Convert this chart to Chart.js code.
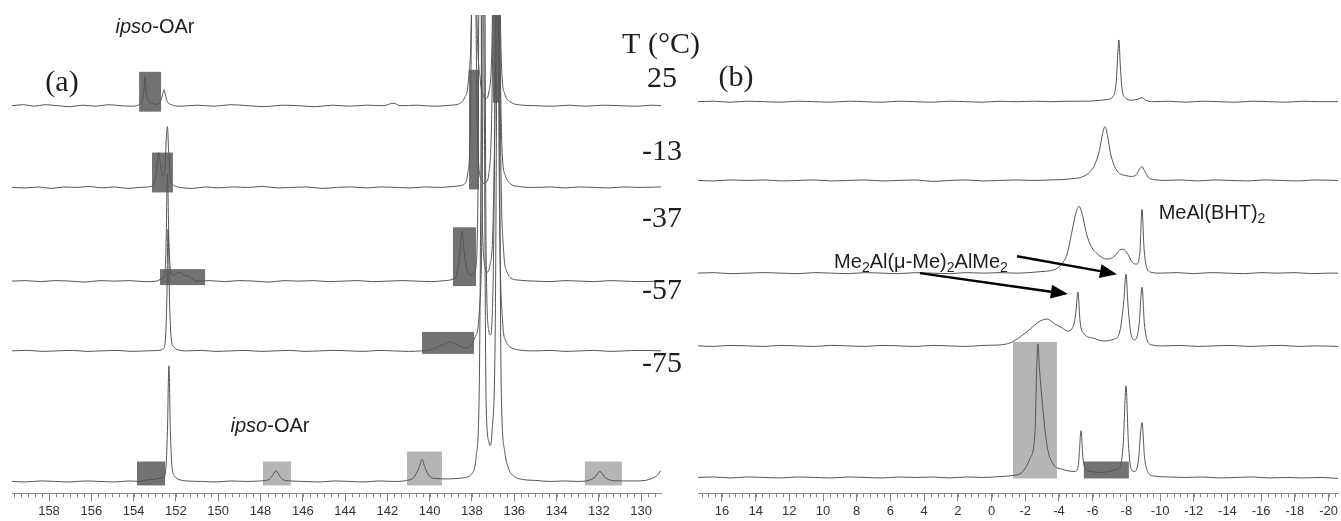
<!DOCTYPE html>
<html>
<head>
<meta charset="utf-8">
<script src="https://cdn.jsdelivr.net/npm/chart.js@4.4.1/dist/chart.umd.min.js"></script>
<style>
  html, body { margin: 0; padding: 0; background: #fff; }
  #wrap { position: relative; width: 1341px; height: 521px; overflow: hidden; background: #fff; }
  #chartA { position: absolute; left: 0; top: 0; }
  #chartB { position: absolute; left: 670px; top: 0; }
</style>
</head>
<body>
<div id="wrap">
  <canvas id="chartA" width="710" height="521"></canvas>
  <canvas id="chartB" width="671" height="521"></canvas>
</div>
<script>
// temperatures (°C), top to bottom
var temperatures = ['25', '-13', '-37', '-57', '-75'];

// axis tick labels (ppm)
var ticksA = [158, 156, 154, 152, 150, 148, 146, 144, 142, 140, 138, 136, 134, 132, 130];
var ticksB = [16, 14, 12, 10, 8, 6, 4, 2, 0, -2, -4, -6, -8, -10, -12, -14, -16, -18, -20];

// (a) spectra: [ppm, intensity above the trace baseline]
var specA25 = [[159.75,0],[159.2,1],[158.7,-0.5],[158.2,1],[157.6,0],[157.0,-1],[156.4,0.5],[155.8,-0.5],[155.2,1],[154.6,0],[154.1,-0.5],[153.8,0.5],[153.62,4],[153.52,14],[153.46,29],[153.4,14],[153.3,5],[153.1,2],[152.9,1.5],[152.72,5],[152.62,12],[152.56,16],[152.5,11],[152.4,4],[152.2,1],[151.8,-0.5],[151.0,0.5],[150.2,-0.5],[149.4,1],[148.6,0],[147.8,-1],[147.0,0.5],[146.2,0],[145.4,-1],[144.6,0.5],[143.8,-0.5],[143.0,0.5],[142.2,0],[141.7,2.5],[141.4,0],[140.6,0.5],[139.8,-0.5],[139.0,0.5],[138.6,2],[138.35,8],[138.15,30],[138.0,140],[137.9,520],[137.8,140],[137.6,25],[137.45,10],[137.35,7],[137.2,14],[137.03,90],[136.94,300],[136.82,520],[136.72,200],[136.6,40],[136.45,12],[136.2,4],[135.8,1],[135.0,0],[134.2,-0.5],[133.4,0.5],[132.6,-0.5],[131.8,0.5],[131.0,0],[130.2,-0.5],[129.5,0.5],[129.06,0]];
var specAm13 = [[159.75,0],[159.1,-0.5],[158.5,0.5],[157.9,-1],[157.3,0.5],[156.7,0],[156.1,1],[155.5,-0.5],[154.9,0.5],[154.3,-1],[153.7,0],[153.3,0.5],[153.05,3],[152.92,15],[152.82,35],[152.74,25],[152.62,11],[152.52,18],[152.45,50],[152.4,61],[152.34,35],[152.25,8],[152.1,2],[151.8,0],[151.2,-1],[150.6,0.5],[150.0,-0.5],[149.3,0.5],[148.6,0],[147.9,1],[147.2,-0.5],[146.5,0],[145.8,0.5],[145.1,-1],[144.4,0],[143.7,0.5],[143.0,-0.5],[142.3,0.5],[141.6,0],[140.9,-0.5],[140.2,0.5],[139.5,0],[138.9,1],[138.5,2],[138.33,4],[138.2,14],[138.08,60],[137.98,300],[137.92,560],[137.82,200],[137.7,30],[137.55,8],[137.45,4],[137.35,5],[137.2,14],[137.05,90],[136.95,300],[136.82,560],[136.7,200],[136.58,40],[136.42,12],[136.2,4],[135.8,1],[135.0,0],[134.3,0.5],[133.6,-0.5],[132.9,0.5],[132.2,0],[131.5,-0.5],[130.8,0.5],[130.1,0],[129.06,0.5]];
var specAm37 = [[159.75,0],[159.1,0.5],[158.4,-0.5],[157.7,0.5],[157.0,0],[156.3,-1],[155.6,0.5],[154.9,0],[154.2,0.5],[153.5,-0.5],[152.9,0],[152.7,2],[152.55,4],[152.47,30],[152.4,107],[152.33,40],[152.25,10],[152.1,6],[151.95,8],[151.8,9],[151.6,6],[151.4,5],[151.2,2],[151.0,0],[150.4,0.5],[149.7,-0.5],[149.0,0.5],[148.3,0],[147.6,-1],[146.9,0.5],[146.2,0],[145.5,0.5],[144.8,-0.5],[144.1,0],[143.4,0.5],[142.7,-0.5],[142.0,0],[141.3,0.5],[140.6,0],[139.9,-0.5],[139.3,0.5],[138.9,2],[138.7,8],[138.57,30],[138.47,50],[138.37,30],[138.22,10],[138.0,6],[137.85,10],[137.72,80],[137.62,560],[137.52,80],[137.38,14],[137.29,9],[137.15,16],[137.0,60],[136.85,300],[136.77,560],[136.65,150],[136.5,30],[136.35,10],[136.15,3],[135.8,1],[135.0,0],[134.3,-0.5],[133.6,0.5],[132.9,0],[132.2,-0.5],[131.5,0.5],[130.8,0],[130.1,-0.5],[129.06,0]];
var specAm57 = [[159.75,0],[159.0,0.5],[158.3,-0.5],[157.6,0],[156.9,0.5],[156.2,-0.5],[155.5,0],[154.8,0.5],[154.1,-0.5],[153.4,0],[152.8,0.5],[152.6,2],[152.5,10],[152.43,50],[152.37,122],[152.3,50],[152.22,12],[152.1,4],[151.9,1],[151.5,0],[150.8,0.5],[150.1,-0.5],[149.4,0],[148.7,0.5],[148.0,-0.5],[147.3,0],[146.6,0.5],[145.9,-0.5],[145.2,0],[144.5,0.5],[143.8,0],[143.1,-0.5],[142.4,0.5],[141.7,0],[141.0,-0.5],[140.4,0],[140.0,1],[139.6,4],[139.3,7],[139.04,9],[138.8,7],[138.5,4],[138.25,3],[138.05,6],[137.85,14],[137.65,40],[137.5,200],[137.43,560],[137.33,100],[137.2,20],[137.13,16],[137.05,30],[136.95,150],[136.82,560],[136.7,150],[136.55,30],[136.4,10],[136.2,4],[135.8,1],[135.0,0],[134.3,0.5],[133.6,-0.5],[132.9,0],[132.2,0.5],[131.5,-0.5],[130.8,0],[130.1,0.5],[129.06,0]];
var specAm75 = [[159.75,0],[159.1,-0.5],[158.4,0.5],[157.7,0],[157.0,-0.5],[156.3,0.5],[155.6,0],[154.9,-0.5],[154.2,0.5],[153.7,0],[153.4,1.5],[153.1,2],[152.8,3],[152.6,4],[152.48,12],[152.4,50],[152.33,116],[152.26,50],[152.18,14],[152.05,5],[151.85,2],[151.5,0.5],[150.8,0],[150.1,-0.5],[149.4,0.5],[148.7,0],[148.0,0.5],[147.6,2],[147.4,7],[147.27,11],[147.14,7],[146.95,2],[146.6,0.5],[145.9,0],[145.2,-0.5],[144.5,0.5],[143.8,0],[143.1,-0.5],[142.4,0.5],[141.7,0],[141.1,1],[140.75,4],[140.5,14],[140.36,22],[140.22,14],[140.0,5],[139.7,3],[139.2,2.5],[138.7,3],[138.3,4],[138.0,8],[137.8,25],[137.65,100],[137.48,560],[137.33,80],[137.2,40],[137.15,36],[137.05,50],[136.9,150],[136.77,560],[136.62,100],[136.45,30],[136.25,12],[136.0,5],[135.6,2],[135.0,1],[134.3,0],[133.6,0.5],[133.0,0],[132.5,1],[132.2,4],[131.95,10],[131.7,4],[131.4,1],[130.9,0.5],[130.3,0.5],[129.8,1],[129.5,3],[129.25,6],[129.06,11]];

// (b) spectra: [ppm, intensity above the trace baseline]
var specB25 = [[17.42,0],[16.5,0.5],[15.5,-0.5],[14.5,0.5],[13.5,0],[12.5,-0.5],[11.5,0.5],[10.5,0],[9.5,-0.5],[8.5,0.5],[7.5,0],[6.5,-0.5],[5.5,0.5],[4.5,0],[3.5,-0.5],[2.5,0.5],[1.5,0],[0.5,-0.5],[-0.5,0.5],[-1.5,0],[-2.5,0.5],[-3.5,0],[-4.5,0.5],[-5.5,0.5],[-6.2,1],[-6.8,2],[-7.2,5],[-7.4,20],[-7.5,50],[-7.56,62],[-7.63,40],[-7.75,12],[-7.95,4],[-8.3,1.5],[-8.7,2.5],[-8.93,4],[-9.15,1.5],[-9.5,0],[-10.5,0.5],[-11.5,-0.5],[-12.5,0.5],[-13.5,0],[-14.5,-0.5],[-15.5,0.5],[-16.5,0],[-17.5,-0.5],[-18.5,0.5],[-19.5,0],[-20.56,0]];
var specBm13 = [[17.42,0],[16.5,-0.5],[15.5,0.5],[14.5,0],[13.5,0.5],[12.5,-0.5],[11.5,0],[10.5,0.5],[9.5,-0.5],[8.5,0],[7.5,0.5],[6.5,-0.5],[5.5,0],[4.5,0.5],[3.5,-1],[2.5,0],[1.5,0.5],[0.5,-0.5],[-0.5,0],[-1.5,0.5],[-2.5,0],[-3.5,0.5],[-4.3,1],[-4.9,2],[-5.3,3],[-5.8,8],[-6.1,15],[-6.4,30],[-6.6,48],[-6.73,54],[-6.88,45],[-7.05,28],[-7.3,14],[-7.6,7],[-7.95,5],[-8.3,4],[-8.6,6],[-8.8,12],[-8.93,14],[-9.07,10],[-9.3,3],[-9.6,1],[-10.2,0],[-11.2,0.5],[-12.2,-0.5],[-13.2,0.5],[-14.2,0],[-15.2,-0.5],[-16.2,0.5],[-17.2,0],[-18.2,-0.5],[-19.2,0.5],[-20.56,0]];
var specBm37 = [[17.42,0],[16.5,0.5],[15.5,-0.5],[14.5,0],[13.5,0.5],[12.5,0],[11.5,-0.5],[10.5,0.5],[9.5,0],[8.5,-0.5],[7.5,0.5],[6.5,0],[5.5,-0.5],[4.5,0.5],[3.5,0],[2.5,-0.5],[1.5,0.5],[0.5,0],[-0.5,0.5],[-1.5,0],[-2.2,0.5],[-2.9,1.5],[-3.5,2.5],[-3.9,5],[-4.25,11],[-4.5,20],[-4.75,40],[-5.0,60],[-5.19,67],[-5.4,58],[-5.6,42],[-5.85,29],[-6.3,19],[-6.85,14],[-7.3,17],[-7.6,23],[-7.8,24],[-8.05,20],[-8.35,11],[-8.6,9],[-8.8,20],[-8.93,64],[-9.05,25],[-9.2,6],[-9.45,1],[-10.0,0],[-11.0,0.5],[-12.0,-0.5],[-13.0,0.5],[-14.0,0],[-15.0,-0.5],[-16.0,0.5],[-17.0,0],[-18.0,0.5],[-19.0,-0.5],[-20.0,0],[-20.56,0]];
var specBm57 = [[17.42,0],[16.5,-0.5],[15.5,0.5],[14.5,0],[13.5,-0.5],[12.5,0.5],[11.5,0],[10.5,-0.5],[9.5,0.5],[8.5,0],[7.5,-0.5],[6.5,0.5],[5.5,0],[4.5,-0.5],[3.5,0.5],[2.5,0],[1.5,-0.5],[0.5,0.5],[-0.5,1],[-1.1,3],[-1.7,9],[-2.3,17],[-2.8,24],[-3.29,27],[-3.75,22],[-4.2,18],[-4.5,15],[-4.8,18],[-4.98,30],[-5.13,54],[-5.25,25],[-5.5,12],[-6.0,8],[-6.6,5],[-7.3,7],[-7.62,15],[-7.85,45],[-7.98,72],[-8.1,40],[-8.3,10],[-8.5,6],[-8.75,20],[-8.93,59],[-9.07,22],[-9.25,5],[-9.5,1],[-10.2,0],[-11.2,0.5],[-12.2,-0.5],[-13.2,0],[-14.2,0.5],[-15.2,-0.5],[-16.2,0],[-17.2,0.5],[-18.2,-0.5],[-19.2,0],[-20.56,-0.5]];
var specBm75 = [[17.42,0],[16.5,0.5],[15.5,-0.5],[14.5,0.5],[13.5,0],[12.5,-0.5],[11.5,0.5],[10.5,0],[9.5,-0.5],[8.5,0.5],[7.5,0],[6.5,-0.5],[5.5,0.5],[4.5,0],[3.5,0.5],[2.5,-0.5],[1.5,0.5],[0.5,0],[-0.6,1],[-1.27,2],[-1.8,5],[-2.28,19],[-2.58,46],[-2.68,110],[-2.75,134],[-2.84,110],[-2.99,79],[-3.29,32],[-3.64,14],[-4.24,8],[-4.95,6],[-5.15,12],[-5.22,28],[-5.31,47],[-5.42,20],[-5.6,8],[-5.9,6],[-6.4,5],[-7.0,6],[-7.4,8],[-7.65,12],[-7.82,35],[-7.98,92],[-8.12,35],[-8.3,8],[-8.5,6],[-8.7,15],[-8.93,55],[-9.08,20],[-9.3,5],[-9.6,1.5],[-10.5,0.5],[-11.5,0],[-12.5,0.5],[-13.5,-0.5],[-14.5,0],[-15.5,0.5],[-16.5,-0.5],[-17.5,0],[-18.5,-0.5],[-19.5,0],[-20.56,-1]];

// highlighted regions: [ppm from, ppm to, low, high] in chart units
var darkBoxesA = [[153.74,152.70,383,423],[153.13,152.14,302,342],[152.75,150.62,209,225],[153.84,152.51,8,32],[140.36,137.90,140,162],[138.90,137.81,208,267],[138.14,137.67,305,425],[137.01,136.68,392,480]];
var lightBoxesA = [[147.88,146.56,8,32],[141.07,139.42,8,42],[132.66,130.91,8,32]];
var darkBoxesB = [[-5.48,-8.15,15,32]];
var lightBoxesB = [[-1.27,-3.88,15,152]];

// arrows in (b): [ppm from, y from, ppm to, y to]
var arrowsB = [[-1.51,238,-7.44,220],[4.25,221,-4.53,200]];

var SANS = '"Liberation Sans", Arial, sans-serif';
var SERIF = '"Liberation Serif", "Times New Roman", serif';

function toPoints(spec, base) {
  return spec.map(function(p) { return { x: p[0], y: p[1] + base }; });
}

function drawRich(ctx, segs, cx, cy, size) {
  var widths = segs.map(function(s) {
    ctx.font = (s.i ? 'italic ' : '') + (s.s ? Math.round(size * 0.68) : size) + 'px ' + SANS;
    return ctx.measureText(s.t).width;
  });
  var total = widths.reduce(function(a, b) { return a + b; }, 0);
  var x = cx - total / 2;
  ctx.textBaseline = 'middle';
  ctx.textAlign = 'left';
  segs.forEach(function(s, i) {
    ctx.font = (s.i ? 'italic ' : '') + (s.s ? Math.round(size * 0.68) : size) + 'px ' + SANS;
    ctx.fillText(s.t, x, s.s ? cy + size * 0.3 : cy);
    x += widths[i];
  });
}

function drawArrow(ctx, x1, y1, x2, y2) {
  var ang = Math.atan2(y2 - y1, x2 - x1);
  var len = 17, half = 7;
  var bx = x2 - len * Math.cos(ang), by = y2 - len * Math.sin(ang);
  ctx.strokeStyle = '#000';
  ctx.lineWidth = 2.5;
  ctx.beginPath();
  ctx.moveTo(x1, y1);
  ctx.lineTo(bx, by);
  ctx.stroke();
  ctx.fillStyle = '#000';
  ctx.beginPath();
  ctx.moveTo(x2, y2);
  ctx.lineTo(bx + half * Math.sin(ang), by - half * Math.cos(ang));
  ctx.lineTo(bx - half * Math.sin(ang), by + half * Math.cos(ang));
  ctx.closePath();
  ctx.fill();
}

var boxPlugin = {
  id: 'boxes',
  beforeDatasetsDraw: function(chart, args, opts) {
    var ctx = chart.ctx, xs = chart.scales.x, ys = chart.scales.y;
    ctx.save();
    [[opts.dark, '#727272'], [opts.light, '#b5b5b5']].forEach(function(group) {
      ctx.fillStyle = group[1];
      (group[0] || []).forEach(function(b) {
        var x1 = xs.getPixelForValue(b[0]), x2 = xs.getPixelForValue(b[1]);
        var y1 = ys.getPixelForValue(b[3]), y2 = ys.getPixelForValue(b[2]);
        ctx.fillRect(Math.min(x1, x2), y1, Math.abs(x2 - x1), y2 - y1);
      });
    });
    ctx.restore();
  }
};

var minorPlugin = {
  id: 'minorTicks',
  afterDraw: function(chart, args, opts) {
    var ctx = chart.ctx, xs = chart.scales.x, bottom = chart.chartArea.bottom;
    ctx.save();
    ctx.strokeStyle = '#888';
    ctx.lineWidth = 1;
    ctx.beginPath();
    for (var k = -10; k < 200; k++) {
      var v = opts.start + k * opts.step;
      if (v < xs.min || v > xs.max) continue;
      var px = Math.round(xs.getPixelForValue(v)) + 0.5;
      ctx.moveTo(px, bottom);
      ctx.lineTo(px, bottom + 4);
    }
    ctx.stroke();
    ctx.restore();
  }
};

var textPlugin = {
  id: 'labels',
  afterDatasetsDraw: function(chart, args, opts) {
    var ctx = chart.ctx, xs = chart.scales.x, ys = chart.scales.y;
    ctx.save();
    ctx.fillStyle = '#1e1e1e';
    (opts.serif || []).forEach(function(t) {
      ctx.font = '30px ' + SERIF;
      ctx.textAlign = 'center';
      ctx.textBaseline = 'middle';
      ctx.fillText(t[0], t[1], t[2]);
    });
    (opts.rich || []).forEach(function(t) {
      drawRich(ctx, t[0], t[1], t[2], 20);
    });
    (opts.arrows || []).forEach(function(a) {
      drawArrow(ctx, xs.getPixelForValue(a[0]), ys.getPixelForValue(a[1]),
                xs.getPixelForValue(a[2]), ys.getPixelForValue(a[3]));
    });
    ctx.restore();
  }
};

function makeChart(id, specs, offsets, xmin, xmax, ticks, pad, plugOpts) {
  var datasets = specs.map(function(spec, i) {
    return {
      label: temperatures[i],
      data: toPoints(spec, offsets[i]),
      borderColor: '#555',
      borderWidth: 1,
      pointRadius: 0,
      fill: false,
      cubicInterpolationMode: 'monotone'
    };
  });
  return new Chart(document.getElementById(id), {
    type: 'line',
    data: { datasets: datasets },
    options: {
      responsive: false,
      animation: false,
      events: [],
      layout: { padding: pad },
      plugins: {
        legend: { display: false },
        tooltip: { enabled: false },
        boxes: plugOpts.boxes,
        minorTicks: plugOpts.minor,
        labels: plugOpts.labels
      },
      scales: {
        x: {
          type: 'linear',
          reverse: true,
          min: xmin,
          max: xmax,
          afterBuildTicks: function(scale) {
            scale.ticks = ticks.map(function(v) { return { value: v }; });
          },
          ticks: {
            autoSkip: false,
            maxRotation: 0,
            padding: 2,
            color: '#333',
            font: { family: SANS, size: 13 },
            callback: function(v) { return String(v); }
          },
          grid: { drawOnChartArea: false, tickLength: 8, tickColor: '#888' },
          border: { color: '#888' }
        },
        y: { display: false, min: 0, max: 480 }
      }
    },
    plugins: [boxPlugin, minorPlugin, textPlugin]
  });
}

// (a) 13C region
makeChart('chartA', [specA25, specAm13, specAm37, specAm57, specAm75], [389, 307, 213, 143, 12],
  129.06, 159.75, ticksA, { left: 12, right: 49, top: 15, bottom: 0 }, {
    boxes: { dark: darkBoxesA, light: lightBoxesA },
    minor: { start: 130, step: 1 / 3 },
    labels: {
      serif: [['(a)', 62, 83], ['T (°C)', 661, 45], [temperatures[0], 662, 79], [temperatures[1], 662, 152],
              [temperatures[2], 662, 219], [temperatures[3], 662, 291], [temperatures[4], 662, 364]],
      rich: [[[{ t: 'ipso', i: true }, { t: '-OAr' }], 155, 27],
             [[{ t: 'ipso', i: true }, { t: '-OAr' }], 270, 426]]
    }
  });

// (b) Al-Me region
makeChart('chartB', [specB25, specBm13, specBm37, specBm57, specBm75], [393, 314, 221, 148, 16],
  -20.56, 17.42, ticksB, { left: 28, right: 3, top: 15, bottom: 0 }, {
    boxes: { dark: darkBoxesB, light: lightBoxesB },
    minor: { start: -20, step: 0.4 },
    labels: {
      serif: [['(b)', 66, 78]],
      rich: [[[{ t: 'Me' }, { t: '2', s: true }, { t: 'Al(μ-Me)' }, { t: '2', s: true }, { t: 'AlMe' }, { t: '2', s: true }], 251, 262],
             [[{ t: 'MeAl(BHT)' }, { t: '2', s: true }], 542, 213]],
      arrows: arrowsB
    }
  });
</script>
</body>
</html>
